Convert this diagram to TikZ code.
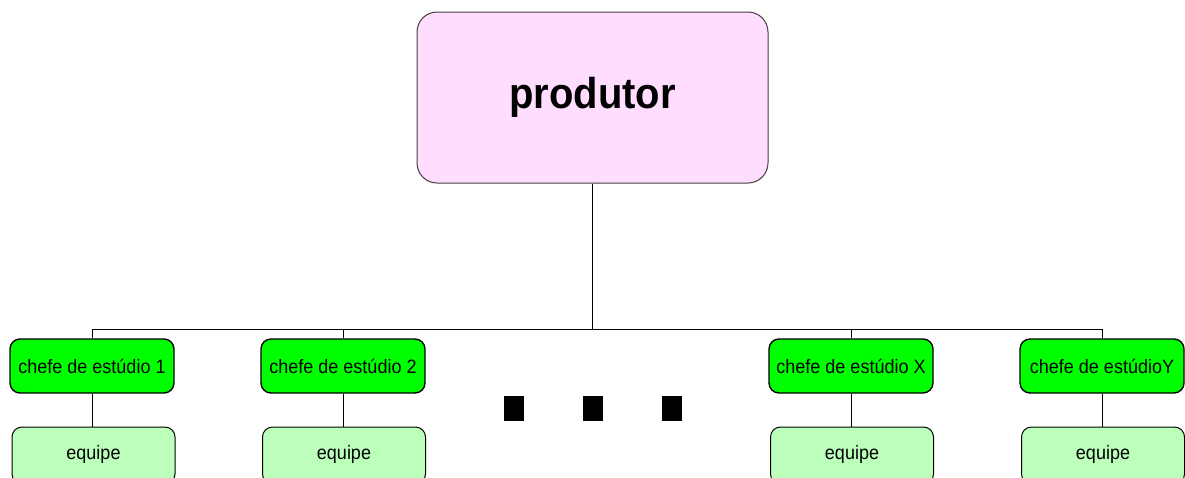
\documentclass[tikz,border=0pt]{standalone}
\usepackage{graphicx}
\usepackage{fontspec}
\setmainfont{Liberation Sans}
\newcommand{\vtxt}[1]{\scalebox{1}[1.08]{#1}}
\definecolor{pinkfill}{HTML}{FFDDFF}
\definecolor{chefegreen}{HTML}{00FF00}
\definecolor{equipegreen}{HTML}{BBFFBB}
\definecolor{edgegray}{HTML}{404040}
\tikzset{
  prodbox/.style={draw=edgegray, line width=1pt, fill=pinkfill, rounded corners=20pt,
    minimum width=351pt, minimum height=171pt, inner sep=0pt,
    font=\fontsize{40}{46}\selectfont\bfseries},
  chefebox/.style={draw=black, line width=1.4pt, fill=chefegreen, rounded corners=10pt,
    minimum width=164pt, minimum height=54pt, inner sep=0pt,
    font=\fontsize{18}{21}\selectfont},
  equipebox/.style={draw=black, line width=1pt, fill=equipegreen, rounded corners=10pt,
    minimum width=163pt, minimum height=57pt, inner sep=0pt,
    font=\fontsize{18}{21}\selectfont},
  dotbox/.style={fill=black, minimum width=20pt, minimum height=25pt, inner sep=0pt},
  link/.style={draw=black, line width=1pt}
}
\begin{document}
\begin{tikzpicture}[x=1pt,y=-1pt]
\useasboundingbox (0,0) rectangle (1185,477);
\clip (0,0) rectangle (1185,477);
\node[prodbox] (prod) at (592.5,97.5) {\raisebox{-1pt}{\vtxt{produtor}}};
\node[chefebox] (c1) at (92,366) {\vtxt{chefe de estúdio 1}};
\node[chefebox] (c2) at (343,366) {\vtxt{chefe de estúdio 2}};
\node[chefebox] (cX) at (851,366) {\vtxt{chefe de estúdio X}};
\node[chefebox] (cY) at (1102,366) {\vtxt{chefe de estúdioY}};
\node[equipebox] (e1) at (93.5,455.5) {\raisebox{7pt}{\vtxt{equipe}}};
\node[equipebox] (e2) at (344,455.5) {\raisebox{7pt}{\vtxt{equipe}}};
\node[equipebox] (eX) at (852,455.5) {\raisebox{7pt}{\vtxt{equipe}}};
\node[equipebox] (eY) at (1103,455.5) {\raisebox{7pt}{\vtxt{equipe}}};
\node[dotbox] (d1) at (514,408.5) {};
\node[dotbox] (d2) at (593,408.5) {};
\node[dotbox] (d3) at (672,408.5) {};
\coordinate (bl) at (92,329);
\coordinate (br) at (1102,329);
\draw[link] (c1.north) -- (bl) -- (br) -- (cY.north);
\draw[link] (c2.north) -- (c2.north |- bl);
\draw[link] (cX.north) -- (cX.north |- bl);
\draw[link] (prod.south) -- (prod.south |- bl);
\draw[link] (c1.south) -- (c1.south |- e1.north);
\draw[link] (c2.south) -- (c2.south |- e2.north);
\draw[link] (cX.south) -- (cX.south |- eX.north);
\draw[link] (cY.south) -- (cY.south |- eY.north);
\end{tikzpicture}
\end{document}
